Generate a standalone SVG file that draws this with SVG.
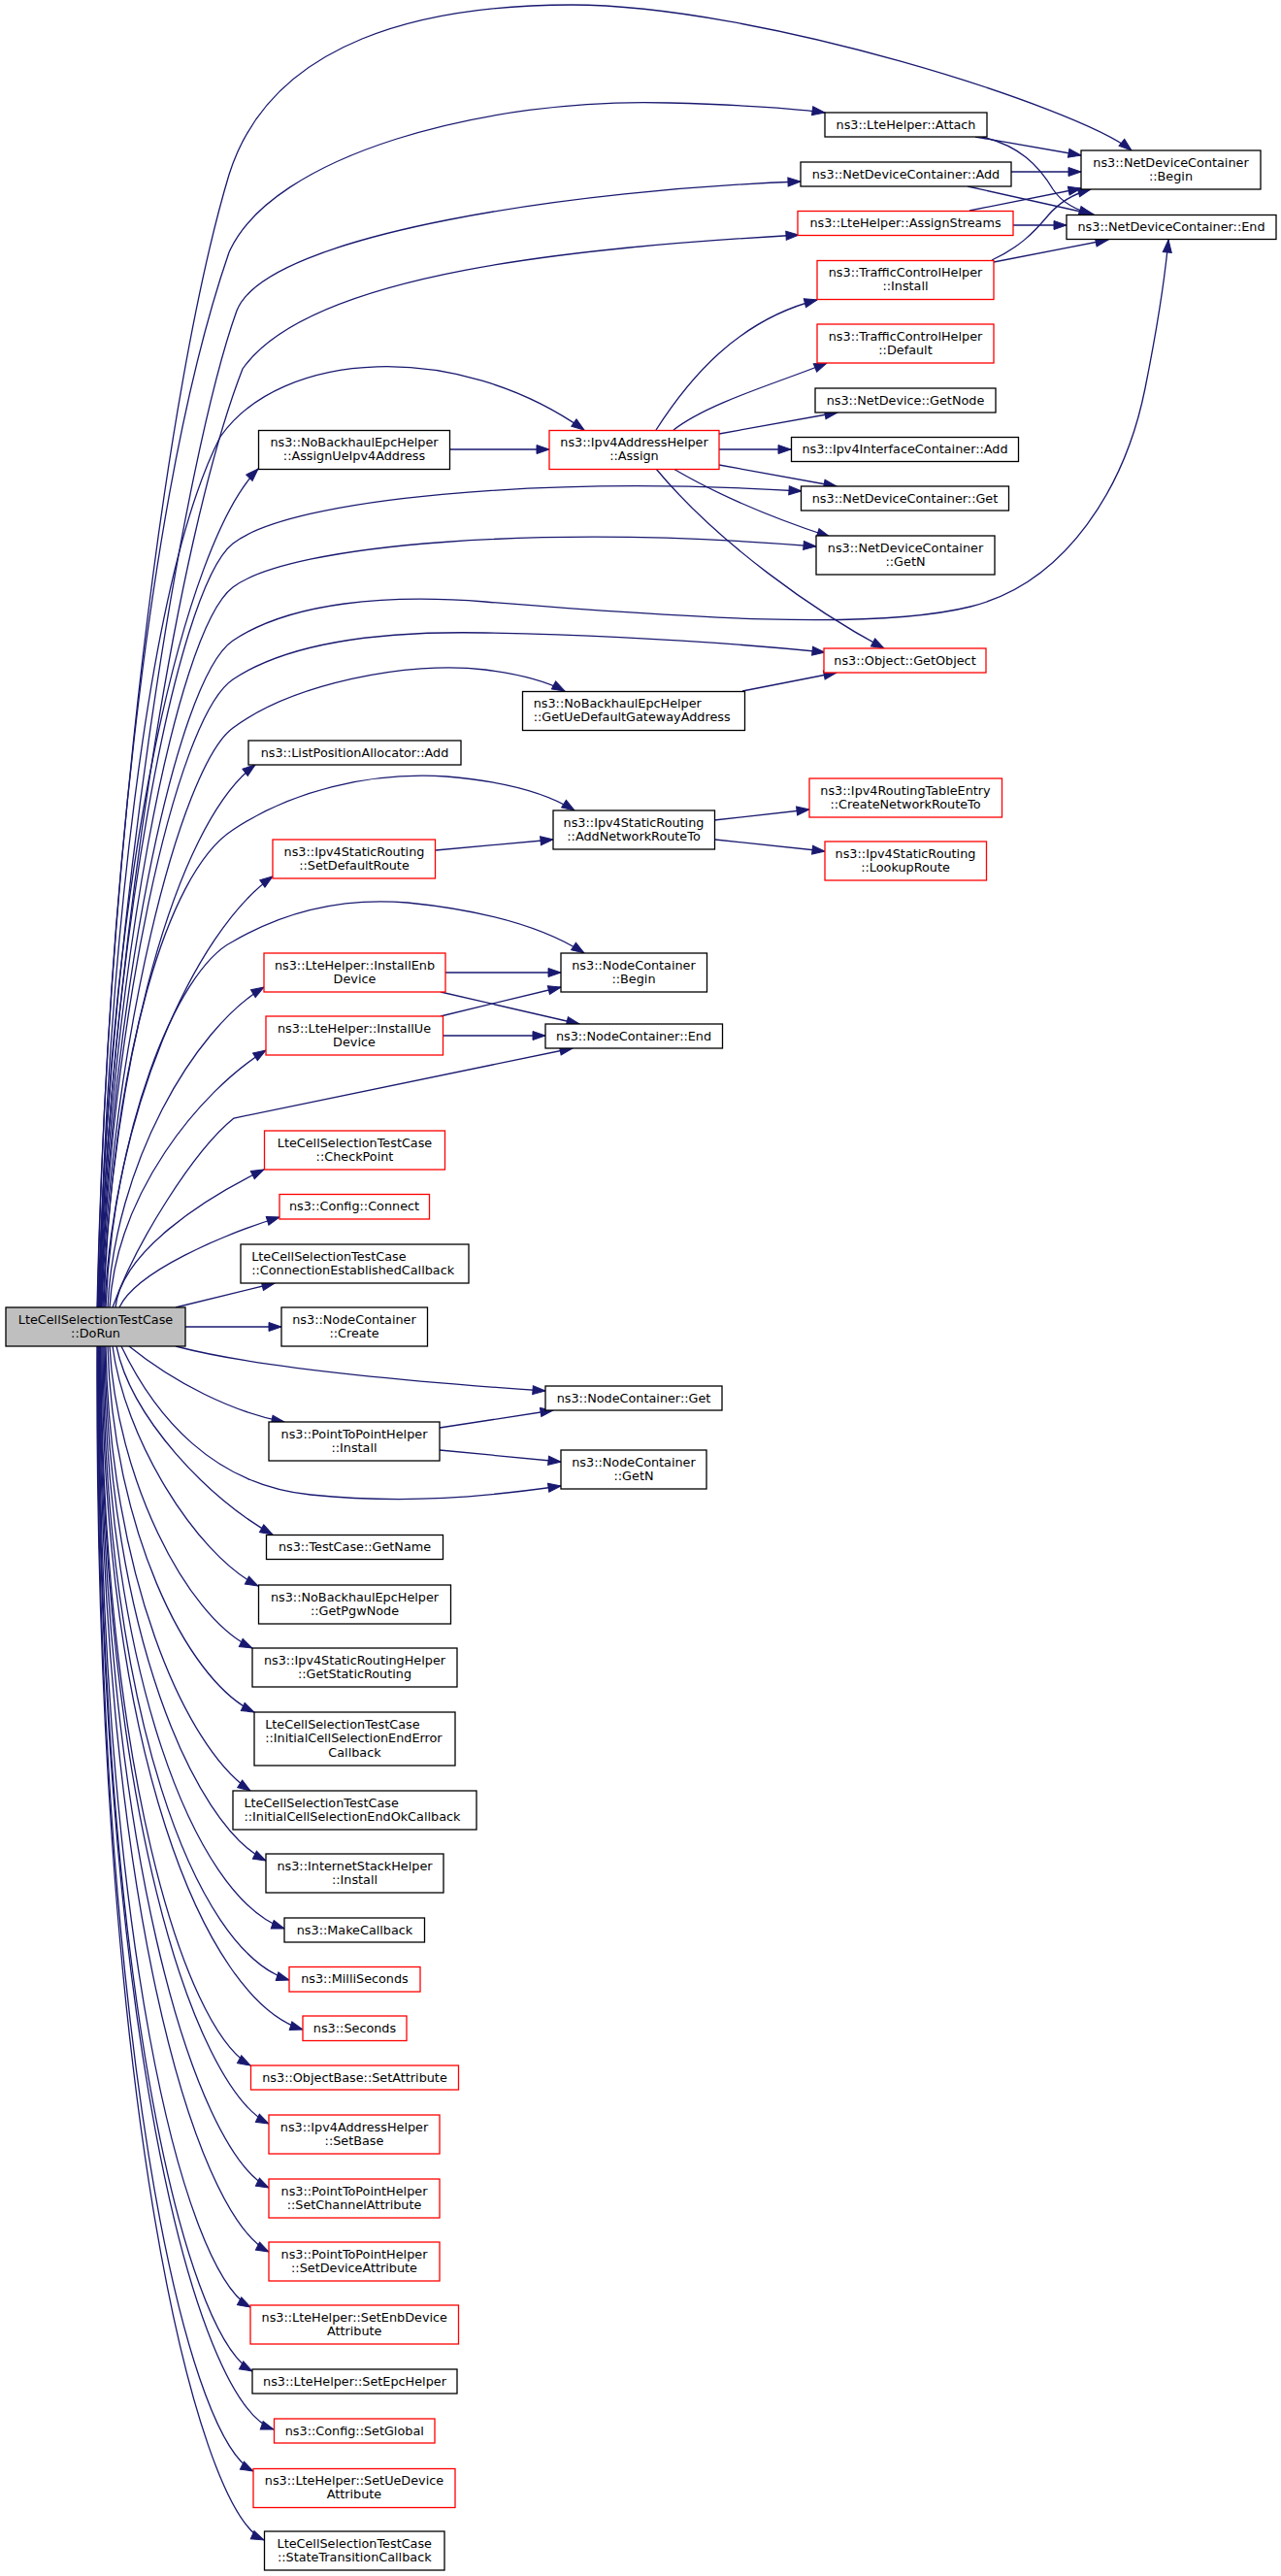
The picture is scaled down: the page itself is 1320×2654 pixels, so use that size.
<svg xmlns="http://www.w3.org/2000/svg" width="1320" height="2654" viewBox="0 0 1320 2654">
<style>
.nd rect{fill:#fff;stroke:#000;stroke-width:1.3}
.nd.red rect{stroke:#f00}
.nd.cur rect{fill:#bfbfbf}
text{font-family:"DejaVu Sans",sans-serif;font-size:12.8px;fill:#000;text-anchor:middle}
text.l{text-anchor:start}
#edges path{fill:none;stroke:#191970;stroke-width:1.3;marker-end:url(#a)}
</style>
<defs>
<marker id="a" markerWidth="14" markerHeight="10" refX="13" refY="4.5" orient="auto" markerUnits="userSpaceOnUse" overflow="visible"><path d="M0,0 L13,4.5 L0,9 z" fill="#191970" stroke="#191970" stroke-width="1"/></marker>
</defs>
<rect width="1320" height="2654" fill="#fff"/>
<g id="edges">
<path d="M100,1347 C110,900 170,400 236,180 C280,40 440,5 589,5 C780,5 1110,110 1166,155"/>
<path d="M100.5,1347 C110,900 160,480 236,260 C280,160 500,100 690,106 C760,108 820,112 850,116"/>
<path d="M101,1347 C112,950 190,470 244,320 C275,240 600,195 825,187"/>
<path d="M101.5,1347 C114,1000 180,560 250,380 C320,280 600,255 823,242"/>
<path d="M102,1347 C110,1000 150,600 227,450 C290,360 470,350 602,443"/>
<path d="M102.5,1347 C110,900 190,560 266,483"/>
<path d="M103,1347 C111,993 180,607 240,560 C300,513 560,490 826,506"/>
<path d="M103.5,1347 C112,1020 180,650 240,605 C300,560 560,540 841,563"/>
<path d="M104,1347 C113,1040 180,700 240,660 C300,620 400,612 500,620 C700,636 900,650 1000,625 C1100,600 1160,500 1180,400 C1192,340 1200,290 1204,247"/>
<path d="M104.5,1347 C113,1060 180,740 240,700 C300,660 400,650 500,652 C650,655 780,665 850,672"/>
<path d="M105,1347 C114,1080 185,790 240,750 C300,705 420,680 500,690 C540,695 565,703 582,712"/>
<path d="M106,1347 C115,1100 180,850 263,788"/>
<path d="M107,1347 C115,1100 170,900 240,855 C300,815 380,795 460,800 C520,805 565,818 592,835"/>
<path d="M108,1347 C116,1150 200,960 281,903"/>
<path d="M109,1347 C116,1170 180,1000 240,970 C300,935 360,925 420,930 C500,938 560,955 602,982"/>
<path d="M111,1347 C118,1200 200,1060 272,1017"/>
<path d="M113,1347 C120,1230 205,1125 274,1082"/>
<path d="M116,1347 C140,1280 200,1185 241,1152 L590,1080"/>
<path d="M119,1347 C125,1290 210,1235 272,1205"/>
<path d="M123,1347 C140,1310 230,1272 288,1254"/>
<path d="M181,1347 L283,1322"/>
<path d="M191,1367 L290,1367"/>
<path d="M181,1387 C260,1408 400,1422 562,1433"/>
<path d="M133,1387 C180,1425 240,1455 293,1465"/>
<path d="M125,1387 C160,1460 220,1530 320,1540 C420,1550 500,1542 578,1531"/>
<path d="M120,1387 C135,1460 215,1545 281,1581"/>
<path d="M116,1387 C128,1480 200,1600 266,1634"/>
<path d="M113,1387 C120,1520 190,1665 260,1698"/>
<path d="M111,1387 C116,1570 190,1730 262,1764"/>
<path d="M109,1387 C113,1620 190,1800 258,1845"/>
<path d="M108,1387 C112,1680 200,1880 274,1917"/>
<path d="M107,1387 C110,1720 200,1955 293,1987"/>
<path d="M106,1387 C108,1760 200,2010 298,2040"/>
<path d="M105,1387 C106,1800 210,2060 312,2091"/>
<path d="M104,1387 C105,1820 190,2090 258,2128"/>
<path d="M103.5,1387 C104,1860 200,2150 277,2188"/>
<path d="M103,1387 C103,1900 200,2215 277,2254"/>
<path d="M102.5,1387 C102,1950 200,2280 277,2320"/>
<path d="M102,1387 C101,2000 190,2340 258,2377"/>
<path d="M101.5,1387 C100,2040 190,2405 260,2443"/>
<path d="M101,1387 C99,2080 200,2475 282,2503"/>
<path d="M100.5,1387 C98,2100 190,2510 261,2546"/>
<path d="M100,1387 C97,2150 200,2585 272,2617"/>
<path d="M1005,141 L1114,160"/>
<path d="M1012,141 C1050,150 1070,170 1085,195 C1095,210 1110,216 1125,221"/>
<path d="M1042,177 L1114,177"/>
<path d="M997,192 L1127,221"/>
<path d="M999,217 L1114,194"/>
<path d="M1044,232 L1099,232"/>
<path d="M1022,268 C1050,255 1065,240 1080,222 C1092,208 1105,200 1124,195"/>
<path d="M1024,270 L1142,247"/>
<path d="M676,443 C710,390 760,330 842,309"/>
<path d="M694,443 C730,415 800,395 852,374"/>
<path d="M741,447 L863,425"/>
<path d="M741,463 L815,463"/>
<path d="M741,479 L862,501"/>
<path d="M694,483 C740,510 800,535 855,553"/>
<path d="M676,483 C740,560 840,630 911,668"/>
<path d="M464,463 L566,463"/>
<path d="M765,712 L862,693"/>
<path d="M736,845 L834,834"/>
<path d="M737,865 L850,877"/>
<path d="M449,876 L570,865"/>
<path d="M459,1002 L578,1002"/>
<path d="M454,1022 L597,1055"/>
<path d="M454,1047 L578,1017"/>
<path d="M456,1067 L562,1067"/>
<path d="M453,1471 L570,1453"/>
<path d="M453,1494 L578,1506"/>
</g>
<g id="n_dorun" class="nd cur"><rect x="6" y="1347" width="185" height="40"/><text x="98.5" y="1363.5">LteCellSelectionTestCase</text><text x="98.5" y="1377.5">::DoRun</text></g>
<g id="n_ndc_begin" class="nd"><rect x="1114" y="155" width="185" height="40"/><text x="1206.5" y="171.5">ns3::NetDeviceContainer</text><text x="1206.5" y="185.5">::Begin</text></g>
<g id="n_attach" class="nd"><rect x="850" y="116" width="167" height="25"/><text x="933.5" y="132.5">ns3::LteHelper::Attach</text></g>
<g id="n_ndc_add" class="nd"><rect x="825" y="167" width="217" height="25"/><text x="933.5" y="183.5">ns3::NetDeviceContainer::Add</text></g>
<g id="n_assignstreams" class="nd red"><rect x="822" y="217.5" width="222" height="25"/><text x="933" y="234">ns3::LteHelper::AssignStreams</text></g>
<g id="n_ndc_end" class="nd"><rect x="1099" y="221.5" width="216" height="25"/><text x="1207" y="238">ns3::NetDeviceContainer::End</text></g>
<g id="n_tch_install" class="nd red"><rect x="842" y="268.5" width="182" height="40"/><text x="933" y="285">ns3::TrafficControlHelper</text><text x="933" y="299">::Install</text></g>
<g id="n_tch_default" class="nd red"><rect x="842" y="334" width="182" height="40"/><text x="933" y="350.5">ns3::TrafficControlHelper</text><text x="933" y="364.5">::Default</text></g>
<g id="n_getnode" class="nd"><rect x="840" y="400" width="186" height="25"/><text x="933" y="416.5">ns3::NetDevice::GetNode</text></g>
<g id="n_ipv4ic_add" class="nd"><rect x="815.5" y="450.5" width="234" height="25"/><text x="932.5" y="467">ns3::Ipv4InterfaceContainer::Add</text></g>
<g id="n_ndc_get" class="nd"><rect x="825.5" y="501" width="214" height="25"/><text x="932.5" y="517.5">ns3::NetDeviceContainer::Get</text></g>
<g id="n_ndc_getn" class="nd"><rect x="841" y="552" width="184" height="40"/><text x="933" y="568.5">ns3::NetDeviceContainer</text><text x="933" y="582.5">::GetN</text></g>
<g id="n_getobject" class="nd red"><rect x="849" y="668" width="167" height="25"/><text x="932.5" y="684.5">ns3::Object::GetObject</text></g>
<g id="n_assign" class="nd red"><rect x="566" y="443.5" width="175" height="40"/><text x="653.5" y="460">ns3::Ipv4AddressHelper</text><text x="653.5" y="474">::Assign</text></g>
<g id="n_assignue" class="nd"><rect x="266.5" y="443.5" width="197" height="40"/><text x="365" y="460">ns3::NoBackhaulEpcHelper</text><text x="365" y="474">::AssignUeIpv4Address</text></g>
<g id="n_getuedefault" class="nd"><rect x="538.5" y="712.5" width="229" height="40"/><text class="l" x="549.7" y="729">ns3::NoBackhaulEpcHelper</text><text class="l" x="549.7" y="743">::GetUeDefaultGatewayAddress</text></g>
<g id="n_listpos" class="nd"><rect x="256" y="763" width="219" height="25"/><text x="365.5" y="779.5">ns3::ListPositionAllocator::Add</text></g>
<g id="n_addnet" class="nd"><rect x="570" y="835" width="166.5" height="40"/><text x="653" y="851.5">ns3::Ipv4StaticRouting</text><text x="653" y="865.5">::AddNetworkRouteTo</text></g>
<g id="n_createnet" class="nd red"><rect x="834" y="802" width="198.5" height="40"/><text x="933" y="818.5">ns3::Ipv4RoutingTableEntry</text><text x="933" y="832.5">::CreateNetworkRouteTo</text></g>
<g id="n_lookup" class="nd red"><rect x="850" y="867" width="166.5" height="40"/><text x="933" y="883.5">ns3::Ipv4StaticRouting</text><text x="933" y="897.5">::LookupRoute</text></g>
<g id="n_setdefault" class="nd red"><rect x="281" y="865" width="167.5" height="40"/><text x="365" y="881.5">ns3::Ipv4StaticRouting</text><text x="365" y="895.5">::SetDefaultRoute</text></g>
<g id="n_nc_begin" class="nd"><rect x="578" y="982" width="150.5" height="40"/><text x="653" y="998.5">ns3::NodeContainer</text><text x="653" y="1012.5">::Begin</text></g>
<g id="n_installenb" class="nd red"><rect x="272" y="982" width="187" height="40"/><text x="365.5" y="998.5">ns3::LteHelper::InstallEnb</text><text x="365.5" y="1012.5">Device</text></g>
<g id="n_installue" class="nd red"><rect x="274" y="1047" width="182.5" height="40"/><text x="365" y="1063.5">ns3::LteHelper::InstallUe</text><text x="365" y="1077.5">Device</text></g>
<g id="n_nc_end" class="nd"><rect x="562" y="1055" width="182.5" height="25"/><text x="653" y="1071.5">ns3::NodeContainer::End</text></g>
<g id="n_checkpoint" class="nd red"><rect x="272.5" y="1165" width="186" height="40"/><text x="365.5" y="1181.5">LteCellSelectionTestCase</text><text x="365.5" y="1195.5">::CheckPoint</text></g>
<g id="n_connect" class="nd red"><rect x="288" y="1230.5" width="154.5" height="25.5"/><text x="365" y="1247">ns3::Config::Connect</text></g>
<g id="n_connest" class="nd"><rect x="248" y="1282" width="235" height="40"/><text class="l" x="259.2" y="1298.5">LteCellSelectionTestCase</text><text class="l" x="259.2" y="1312.5">::ConnectionEstablishedCallback</text></g>
<g id="n_nc_create" class="nd"><rect x="290" y="1347" width="150.5" height="40"/><text x="365" y="1363.5">ns3::NodeContainer</text><text x="365" y="1377.5">::Create</text></g>
<g id="n_nc_get" class="nd"><rect x="562" y="1428" width="182" height="25"/><text x="653" y="1444.5">ns3::NodeContainer::Get</text></g>
<g id="n_p2p_install" class="nd"><rect x="277" y="1465" width="176" height="40"/><text x="365" y="1481.5">ns3::PointToPointHelper</text><text x="365" y="1495.5">::Install</text></g>
<g id="n_nc_getn" class="nd"><rect x="578" y="1494" width="150" height="40"/><text x="653" y="1510.5">ns3::NodeContainer</text><text x="653" y="1524.5">::GetN</text></g>
<g id="n_getname" class="nd"><rect x="274.5" y="1581.5" width="182" height="25"/><text x="365.5" y="1598">ns3::TestCase::GetName</text></g>
<g id="n_getpgw" class="nd"><rect x="266.5" y="1633" width="198" height="40"/><text x="365.5" y="1649.5">ns3::NoBackhaulEpcHelper</text><text x="365.5" y="1663.5">::GetPgwNode</text></g>
<g id="n_getstatic" class="nd"><rect x="260" y="1698" width="211" height="40"/><text x="365.5" y="1714.5">ns3::Ipv4StaticRoutingHelper</text><text x="365.5" y="1728.5">::GetStaticRouting</text></g>
<g id="n_errcb" class="nd"><rect x="262" y="1764" width="207" height="55"/><text class="l" x="273.2" y="1780.5">LteCellSelectionTestCase</text><text class="l" x="273.2" y="1795">::InitialCellSelectionEndError</text><text x="365.5" y="1809.5">Callback</text></g>
<g id="n_okcb" class="nd"><rect x="240" y="1845" width="251" height="40"/><text class="l" x="251.4" y="1861.5">LteCellSelectionTestCase</text><text class="l" x="251.4" y="1875.5">::InitialCellSelectionEndOkCallback</text></g>
<g id="n_inetstack" class="nd"><rect x="274" y="1910" width="183" height="40"/><text x="365.5" y="1926.5">ns3::InternetStackHelper</text><text x="365.5" y="1940.5">::Install</text></g>
<g id="n_makecb" class="nd"><rect x="293" y="1976" width="144.5" height="25"/><text x="365.5" y="1992.5">ns3::MakeCallback</text></g>
<g id="n_millis" class="nd red"><rect x="298" y="2026.5" width="135" height="25.5"/><text x="365.5" y="2043">ns3::MilliSeconds</text></g>
<g id="n_seconds" class="nd red"><rect x="312" y="2077" width="107" height="25.5"/><text x="365.5" y="2093.5">ns3::Seconds</text></g>
<g id="n_setattr" class="nd red"><rect x="258.5" y="2128" width="214" height="25"/><text x="365.5" y="2144.5">ns3::ObjectBase::SetAttribute</text></g>
<g id="n_setbase" class="nd red"><rect x="277" y="2179" width="176" height="40"/><text x="365" y="2195.5">ns3::Ipv4AddressHelper</text><text x="365" y="2209.5">::SetBase</text></g>
<g id="n_setchan" class="nd red"><rect x="277" y="2245" width="176" height="40"/><text x="365" y="2261.5">ns3::PointToPointHelper</text><text x="365" y="2275.5">::SetChannelAttribute</text></g>
<g id="n_setdev" class="nd red"><rect x="277" y="2310" width="176" height="40"/><text x="365" y="2326.5">ns3::PointToPointHelper</text><text x="365" y="2340.5">::SetDeviceAttribute</text></g>
<g id="n_setenb" class="nd red"><rect x="258" y="2375" width="214.5" height="40"/><text x="365.25" y="2391.5">ns3::LteHelper::SetEnbDevice</text><text x="365.25" y="2405.5">Attribute</text></g>
<g id="n_setepc" class="nd"><rect x="260" y="2441" width="211" height="25"/><text x="365.5" y="2457.5">ns3::LteHelper::SetEpcHelper</text></g>
<g id="n_setglobal" class="nd red"><rect x="282.5" y="2492" width="165.5" height="25"/><text x="365.25" y="2508.5">ns3::Config::SetGlobal</text></g>
<g id="n_setue" class="nd red"><rect x="261" y="2543.5" width="208" height="40"/><text x="365" y="2560">ns3::LteHelper::SetUeDevice</text><text x="365" y="2574">Attribute</text></g>
<g id="n_statetrans" class="nd"><rect x="272.5" y="2608" width="185.5" height="40"/><text x="365.25" y="2624.5">LteCellSelectionTestCase</text><text x="365.25" y="2638.5">::StateTransitionCallback</text></g>
</svg>
